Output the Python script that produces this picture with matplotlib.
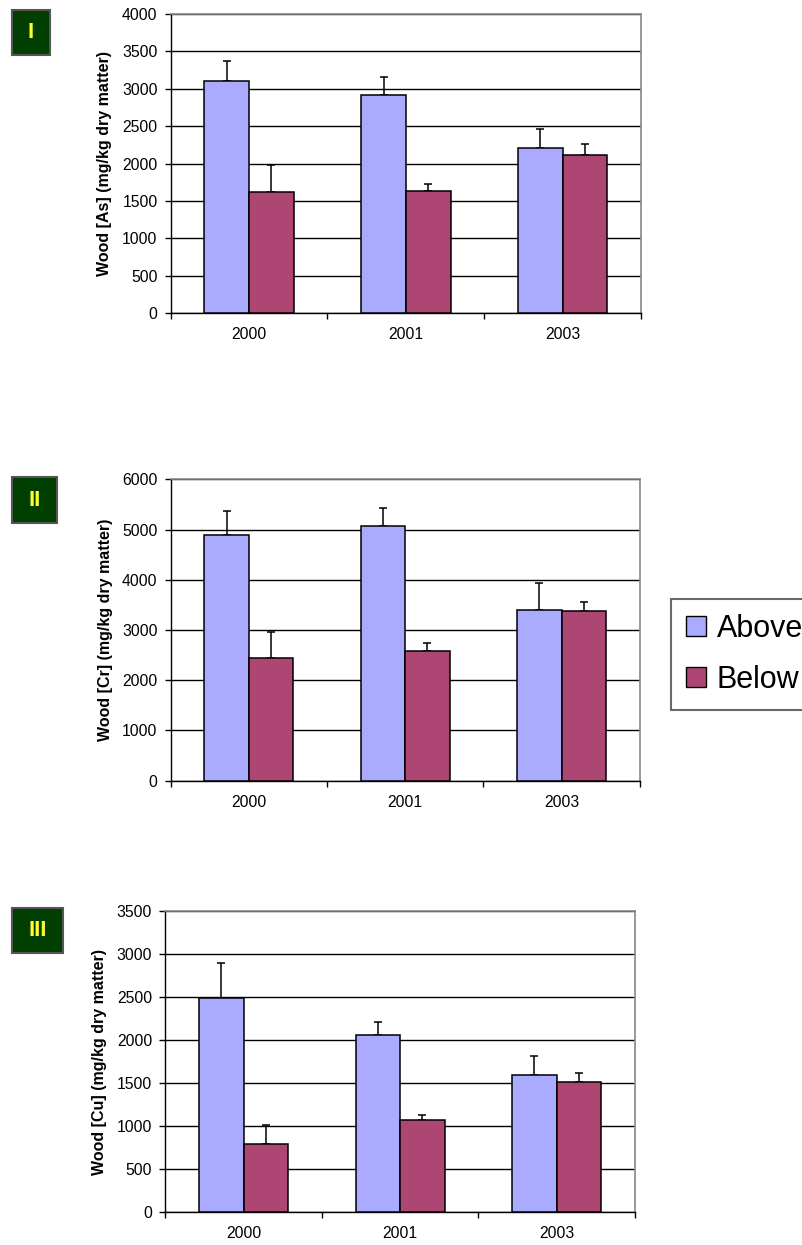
import numpy as np
import matplotlib
matplotlib.use("Agg")
import matplotlib.pyplot as plt
from matplotlib.patches import Patch, Rectangle

plt.rcParams['font.family'] = ['Liberation Sans', 'DejaVu Sans']

years = ["2000", "2001", "2003"]
series_names = ["Above", "Below"]

# As
as_above = [3100, 2920, 2210]
as_above_err = [270, 235, 250]
as_below = [1620, 1640, 2120]
as_below_err = [360, 90, 140]

# Cr
cr_above = [4890, 5075, 3405]
cr_above_err = [480, 350, 535]
cr_below = [2450, 2580, 3380]
cr_below_err = [505, 165, 185]

# Cu
cu_above = [2495, 2060, 1600]
cu_above_err = [405, 155, 215]
cu_below = [790, 1070, 1520]
cu_below_err = [230, 60, 95]

panel_labels = ["I", "II", "III"]
ylabels = ["Wood [As] (mg/kg dry matter)",
           "Wood [Cr] (mg/kg dry matter)",
           "Wood [Cu] (mg/kg dry matter)"]
ymaxes = [4000, 6000, 3500]
ysteps = [500, 1000, 500]

ABOVE = "#aaaaff"
BELOW = "#ae4674"

W, H = 803, 1245
fig = plt.figure(figsize=(W / 100, H / 100), dpi=100)


def fx(px):
    return px / W


def fy(py):
    return 1 - py / H


# axes boxes in pixels: left, top, right, bottom
boxes = [(170.7, 14.0, 641.0, 313.3),
         (170.7, 479.3, 639.7, 780.7),
         (165.3, 911.3, 635.0, 1212.3)]
# label boxes in pixels: left, top, right, bottom
tag_boxes = [(12, 10, 50, 55), (12, 477, 57, 523), (12, 908, 63, 953)]

data = [(as_above, as_above_err, as_below, as_below_err),
        (cr_above, cr_above_err, cr_below, cr_below_err),
        (cu_above, cu_above_err, cu_below, cu_below_err)]

x = np.arange(len(years))
w = 0.285

for k in range(3):
    l, t, r, b = boxes[k]
    ax = fig.add_axes([fx(l), fy(b), fx(r) - fx(l), fy(t) - fy(b)])
    above, above_err, below, below_err = data[k]
    zeros = np.zeros(len(years))
    ax.bar(x - w / 2, above, w, color=ABOVE, edgecolor="black", linewidth=1.1, zorder=3)
    ax.bar(x + w / 2, below, w, color=BELOW, edgecolor="black", linewidth=1.1, zorder=3)
    ax.errorbar(x - w / 2, above, yerr=[zeros, above_err], fmt="none",
                ecolor="black", elinewidth=1.1, capsize=3, capthick=1.1, zorder=2)
    ax.errorbar(x + w / 2, below, yerr=[zeros, below_err], fmt="none",
                ecolor="black", elinewidth=1.1, capsize=3, capthick=1.1, zorder=2)

    ax.set_xlim(-0.5, 2.5)
    ax.set_ylim(0, ymaxes[k])
    ax.set_yticks(np.arange(0, ymaxes[k] + 1, ysteps[k]))
    ax.yaxis.grid(True, color="black", linewidth=1)
    ax.set_axisbelow(True)
    ax.tick_params(axis="y", direction="out", length=4, width=1, pad=5.5,
                   labelsize=11.3)

    ax.set_xticks([-0.5, 0.5, 1.5, 2.5])
    ax.set_xticklabels([])
    ax.tick_params(axis="x", which="major", direction="out", length=4, width=1)
    ax.set_xticks(x, minor=True)
    ax.set_xticklabels(years, minor=True)
    ax.tick_params(axis="x", which="minor", length=0, pad=10, labelsize=11.3)

    for s in ["top", "right"]:
        ax.spines[s].set_color("#888888")
        ax.spines[s].set_linewidth(1.2)
    for s in ["left", "bottom"]:
        ax.spines[s].set_color("black")
        ax.spines[s].set_linewidth(1)

    ax.set_ylabel(ylabels[k], fontsize=11.5, fontweight="bold")
    ax.yaxis.set_label_coords(-0.124, 0.5)

    tl, tt, tr, tb = tag_boxes[k]
    fig.add_artist(Rectangle((fx(tl), fy(tb)), fx(tr) - fx(tl), fy(tt) - fy(tb),
                             transform=fig.transFigure, facecolor="#003f00",
                             edgecolor="#555555", linewidth=1.5))
    fig.text(fx((tl + tr) / 2), fy((tt + tb) / 2), panel_labels[k],
             color="#ffff33", fontsize=16, fontweight="bold",
             ha="center", va="center")

handles = [Patch(facecolor=ABOVE, edgecolor="black", linewidth=1),
           Patch(facecolor=BELOW, edgecolor="black", linewidth=1)]
leg = fig.legend(handles, series_names, loc="upper left",
                 bbox_to_anchor=(fx(670.7), fy(598.7)), borderaxespad=0,
                 fontsize=22, frameon=True, fancybox=False,
                 edgecolor="#444444", handlelength=0.65, handleheight=0.65,
                 handletextpad=0.35, labelspacing=0.68, borderpad=0.5)
leg.get_frame().set_linewidth(1.5)

fig.savefig("out.png", dpi=100)
